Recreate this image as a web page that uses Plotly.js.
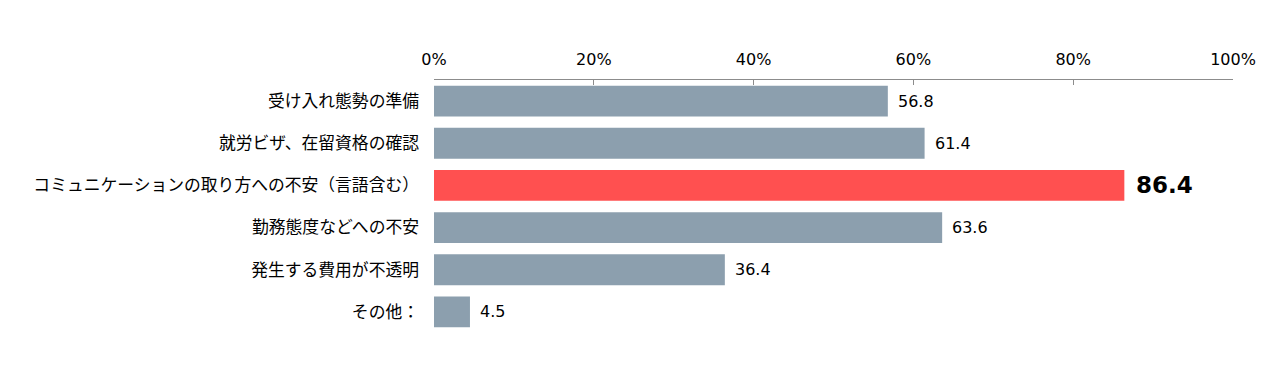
<!DOCTYPE html>
<html><head><meta charset="utf-8">
<script src="https://cdn.plot.ly/plotly-3.0.1.min.js"></script>
<style>html,body{margin:0;padding:0;background:#fff}</style>
</head><body><div id="chart" style="width:1287px;height:377px"></div>
<script>
const categories = ["受け入れ態勢の準備","就労ビザ、在留資格の確認","コミュニケーションの取り方への不安（言語含む）","勤務態度などへの不安","発生する費用が不透明","その他："];
const values = [56.8, 61.4, 86.4, 63.6, 36.4, 4.5];
const highlight = "コミュニケーションの取り方への不安（言語含む）";
const tickVals = [0, 20, 40, 60, 80, 100];
const tickLabels = ["0%","20%","40%","60%","80%","100%"];

const colors = categories.map(c => c === highlight ? "#FF5050" : "#8C9FAE");

const trace = {
  type: "bar", orientation: "h",
  x: values, y: categories,
  marker: {color: colors},
  hoverinfo: "none"
};
const annotations = values.map((v, i) => {
  const hl = categories[i] === highlight;
  return {
    x: v, y: categories[i], xref: "x", yref: "y",
    text: hl ? "<b>" + v.toFixed(1) + "</b>" : v.toFixed(1),
    showarrow: false, xanchor: "left", yanchor: "middle",
    xshift: hl ? 10 : 8,
    font: {family: "DejaVu Sans, sans-serif", size: hl ? 23 : 16, color: "#000"}
  };
});
const layout = {
  width: 1287, height: 377,
  margin: {l: 434, r: 54, t: 80, b: 44},
  paper_bgcolor: "#fff", plot_bgcolor: "#fff",
  bargap: 0.27,
  showlegend: false,
  font: {family: "Noto Sans CJK JP, sans-serif", size: 15, color: "#000"},
  annotations: annotations,
  xaxis: {
    side: "top", range: [0, 100], tickvals: tickVals, ticktext: tickLabels,
    showgrid: false, zeroline: false, showline: true, linecolor: "#8C8C8C", linewidth: 1,
    ticks: "inside", ticklen: 5, tickcolor: "#8C8C8C",
    tickfont: {family: "DejaVu Sans, sans-serif", size: 16}, ticklabelstandoff: 8
  },
  yaxis: {
    autorange: "reversed", showgrid: false, zeroline: false, showline: false,
    ticks: "", ticklabelstandoff: 14, tickfont: {size: 16.8}
  }
};
Plotly.newPlot("chart", [trace], layout, {displayModeBar: false, staticPlot: true});
</script></body></html>
